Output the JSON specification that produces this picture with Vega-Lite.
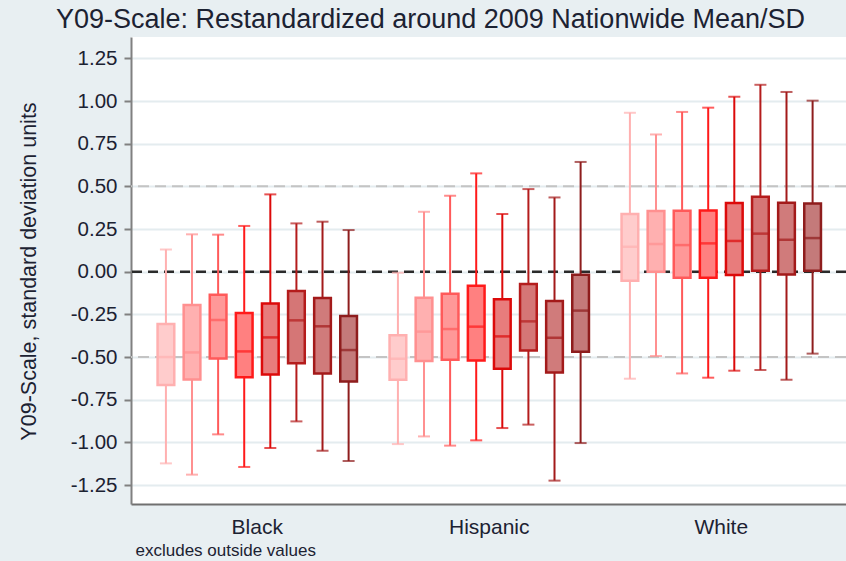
{
  "$schema": "https://vega.github.io/schema/vega-lite/v6.json",
  "width": 715,
  "height": 467,
  "autosize": {"type": "none"},
  "padding": {"left": 131, "top": 37, "right": 0, "bottom": 57},
  "background": "#e8eff2",
  "title": {
    "text": "Y09-Scale: Restandardized around 2009 Nationwide Mean/SD",
    "fontSize": 27,
    "font": "Liberation Sans",
    "fontWeight": "normal",
    "color": "#1c2232",
    "anchor": "middle",
    "frame": "group",
    "dx": -58,
    "dy": 26,
    "baseline": "alphabetic",
    "offset": 8
  },
  "config": {
    "view": {"fill": "white", "stroke": null},
    "font": "Liberation Sans",
    "axisY": {
      "labelFontSize": 20.5,
      "labelColor": "#1c2232",
      "labelPadding": 7,
      "tickSize": 7,
      "tickColor": "#808080",
      "tickWidth": 2,
      "domainColor": "#808080",
      "domainWidth": 2,
      "grid": true,
      "gridColor": "#e4ecef",
      "gridWidth": 2,
      "titleFontSize": 21.5,
      "titleFontWeight": "normal",
      "titleColor": "#1c2232",
      "titleX": -96,
      "titleY": 234,
      "titleAngle": 270,
      "titleAlign": "center",
      "titleBaseline": "alphabetic"
    },
    "axisX": {
      "domainColor": "#707070",
      "domainWidth": 2,
      "ticks": false,
      "grid": false,
      "labelFontSize": 21,
      "labelColor": "#1c2232",
      "labelPadding": 29,
      "labelBaseline": "alphabetic",
      "labelAngle": 0,
      "titleFontSize": 17,
      "titleFontWeight": "normal",
      "titleColor": "#1c2232",
      "titleX": 4,
      "titleY": 51,
      "titleAlign": "left",
      "titleAnchor": "start",
      "titleBaseline": "alphabetic"
    }
  },
  "layer": [
    {
      "data": {"values": [{"ref": 0.5}, {"ref": -0.5}]},
      "mark": {"type": "rule", "color": "#c4c4c4", "strokeWidth": 2, "strokeDash": [11, 6]},
      "encoding": {
        "y": {"field": "ref", "type": "quantitative", "title": "Y09-Scale, standard deviation units",
              "scale": {"domain": [-1.361, 1.375], "nice": false, "zero": false},
              "axis": {
                "values": [-1.25, -1, -0.75, -0.5, -0.25, 0, 0.25, 0.5, 0.75, 1, 1.25],
                "labelExpr": "replace(format(datum.value, '.2f'), '\u2212', '-')"
              }}
      }
    },
    {
      "data": {"values": [{"ref": 0}]},
      "mark": {"type": "rule", "color": "#2a2a2a", "strokeWidth": 2.5, "strokeDash": [10, 6]},
      "encoding": {
        "y": {"field": "ref", "type": "quantitative", "title": "Y09-Scale, standard deviation units"}
      }
    },
    {
      "data": {"name": "boxes", "values": [
        {"group": "Black", "series": "1", "lo": -1.123, "q1": -0.664, "med": -0.50, "q3": -0.306, "hi": 0.13},
        {"group": "Black", "series": "2", "lo": -1.189, "q1": -0.631, "med": -0.473, "q3": -0.195, "hi": 0.219},
        {"group": "Black", "series": "3", "lo": -0.953, "q1": -0.508, "med": -0.283, "q3": -0.135, "hi": 0.217},
        {"group": "Black", "series": "4", "lo": -1.144, "q1": -0.619, "med": -0.467, "q3": -0.242, "hi": 0.268},
        {"group": "Black", "series": "5", "lo": -1.033, "q1": -0.603, "med": -0.385, "q3": -0.186, "hi": 0.453},
        {"group": "Black", "series": "6", "lo": -0.877, "q1": -0.537, "med": -0.285, "q3": -0.113, "hi": 0.283},
        {"group": "Black", "series": "7", "lo": -1.049, "q1": -0.596, "med": -0.32, "q3": -0.154, "hi": 0.293},
        {"group": "Black", "series": "8", "lo": -1.109, "q1": -0.643, "med": -0.459, "q3": -0.26, "hi": 0.244},
        {"group": "Hispanic", "series": "1", "lo": -1.01, "q1": -0.633, "med": -0.51, "q3": -0.373, "hi": -0.006},
        {"group": "Hispanic", "series": "2", "lo": -0.965, "q1": -0.523, "med": -0.351, "q3": -0.152, "hi": 0.351},
        {"group": "Hispanic", "series": "3", "lo": -1.019, "q1": -0.516, "med": -0.336, "q3": -0.129, "hi": 0.445},
        {"group": "Hispanic", "series": "4", "lo": -0.988, "q1": -0.52, "med": -0.322, "q3": -0.082, "hi": 0.576},
        {"group": "Hispanic", "series": "5", "lo": -0.916, "q1": -0.568, "med": -0.379, "q3": -0.162, "hi": 0.338},
        {"group": "Hispanic", "series": "6", "lo": -0.896, "q1": -0.461, "med": -0.291, "q3": -0.072, "hi": 0.484},
        {"group": "Hispanic", "series": "7", "lo": -1.224, "q1": -0.59, "med": -0.387, "q3": -0.172, "hi": 0.435},
        {"group": "Hispanic", "series": "8", "lo": -1.004, "q1": -0.469, "med": -0.228, "q3": -0.018, "hi": 0.643},
        {"group": "White", "series": "1", "lo": -0.627, "q1": -0.053, "med": 0.146, "q3": 0.338, "hi": 0.931},
        {"group": "White", "series": "2", "lo": -0.494, "q1": 0.0, "med": 0.162, "q3": 0.356, "hi": 0.804},
        {"group": "White", "series": "3", "lo": -0.596, "q1": -0.035, "med": 0.156, "q3": 0.357, "hi": 0.936},
        {"group": "White", "series": "4", "lo": -0.621, "q1": -0.035, "med": 0.166, "q3": 0.359, "hi": 0.961},
        {"group": "White", "series": "5", "lo": -0.58, "q1": -0.019, "med": 0.18, "q3": 0.402, "hi": 1.025},
        {"group": "White", "series": "6", "lo": -0.576, "q1": 0.006, "med": 0.223, "q3": 0.439, "hi": 1.095},
        {"group": "White", "series": "7", "lo": -0.633, "q1": -0.016, "med": 0.187, "q3": 0.404, "hi": 1.053},
        {"group": "White", "series": "8", "lo": -0.48, "q1": 0.006, "med": 0.197, "q3": 0.40, "hi": 1.002}
      ]},
      "encoding": {
        "x": {"field": "group", "type": "nominal", "title": "excludes outside values",
              "sort": ["Black", "Hispanic", "White"],
              "scale": {"paddingInner": 0, "paddingOuter": 0.041, "align": 0.54}},
        "xOffset": {"field": "series", "type": "nominal",
                    "scale": {"paddingInner": 0.36, "paddingOuter": 0.6245}}
      },
      "layer": [
        {
          "mark": {"type": "rule", "strokeWidth": 2},
          "encoding": {
            "y": {"field": "lo", "type": "quantitative", "title": "Y09-Scale, standard deviation units"},
            "y2": {"field": "hi"},
            "color": {"field": "series", "type": "nominal", "legend": null,
                      "scale": {"range": ["#ffb0b0", "#ff9090", "#ff5a5a", "#ff1a1a", "#dc0a0a", "#b41c1c", "#a31a1a", "#8e1d1d"]}}
          }
        },
        {
          "mark": {"type": "bar", "strokeWidth": 2.5},
          "encoding": {
            "y": {"field": "q1", "type": "quantitative", "title": "Y09-Scale, standard deviation units"},
            "y2": {"field": "q3"},
            "fill": {"field": "series", "type": "nominal", "legend": null,
                     "scale": {"range": ["#ffcccc", "#ffb0b0", "#ff9898", "#ff8080", "#e87c7c", "#d57676", "#d07b7b", "#c47a7a"]}},
            "stroke": {"field": "series", "type": "nominal", "legend": null,
                       "scale": {"range": ["#ffb0b0", "#ff9090", "#ff5a5a", "#ff1a1a", "#dc0a0a", "#b41c1c", "#a31a1a", "#8e1d1d"]}}
          }
        },
        {
          "mark": {"type": "tick", "size": 17, "thickness": 2.5},
          "encoding": {
            "y": {"field": "med", "type": "quantitative", "title": "Y09-Scale, standard deviation units"},
            "color": {"field": "series", "type": "nominal", "legend": null}
          }
        },
        {
          "mark": {"type": "tick", "size": 12, "thickness": 2},
          "encoding": {
            "y": {"field": "lo", "type": "quantitative", "title": "Y09-Scale, standard deviation units"},
            "color": {"field": "series", "type": "nominal", "legend": null}
          }
        },
        {
          "mark": {"type": "tick", "size": 12, "thickness": 2},
          "encoding": {
            "y": {"field": "hi", "type": "quantitative", "title": "Y09-Scale, standard deviation units"},
            "color": {"field": "series", "type": "nominal", "legend": null}
          }
        }
      ]
    }
  ]
}
